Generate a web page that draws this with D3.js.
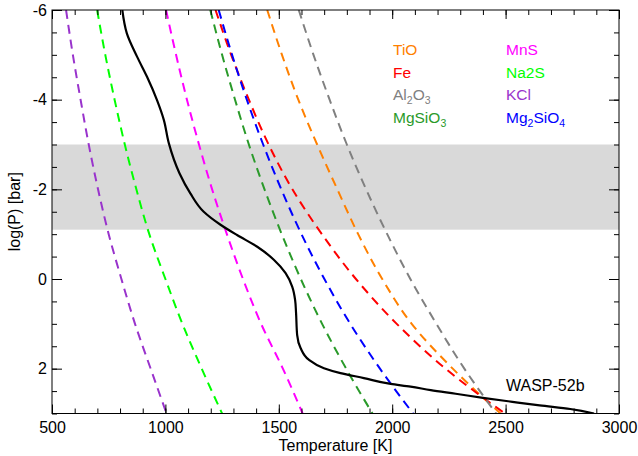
<!DOCTYPE html>
<html>
<head>
<meta charset="utf-8">
<script src="https://cdn.jsdelivr.net/npm/d3@7"></script>
<style>
  body { margin: 0; background: #fff; }
  text { font-family: "Liberation Sans", Arial, sans-serif; }
</style>
</head>
<body>
<div id="chart"></div>
<script>
// pressure grid, log(P) in bar
const logP = [-6, -5, -4, -3, -2, -1, 0, 1, 2, 3];

// condensation curves, temperature [K] at each logP
const tio     = [1449, 1514, 1586, 1669, 1758, 1850, 1956, 2086, 2267, 2478];
const fe      = [1221, 1290, 1368, 1455, 1560, 1690, 1840, 2020, 2235, 2497];
const al2o3   = [1588, 1653, 1724, 1800, 1885, 1978, 2080, 2195, 2318, 2458];
const mgsio3  = [1198, 1250, 1307, 1368, 1437, 1513, 1597, 1691, 1797, 1913];
const mns     = [1003, 1047, 1095, 1148, 1206, 1271, 1342, 1422, 1518, 1605];
const na2s    = [699, 735, 776, 821, 872, 929, 1000, 1075, 1160, 1250];
const kcl     = [562, 592, 626, 662, 703, 750, 806, 866, 935, 1005];
const mg2sio4 = [1235, 1294, 1359, 1431, 1511, 1600, 1701, 1815, 1946, 2092];

// WASP-52b P-T profile
const profP = [-6, -5.48, -4.96, -4.51, -3.99, -3.55, -3.03, -2.36, -1.91, -1.5, -1.21, -0.98, -0.72, -0.43, -0.13, 0.17, 0.47, 0.75, 1.25, 1.54, 1.8, 1.99, 2.1, 2.21, 2.34, 2.4, 2.48, 2.56, 2.65, 2.74, 2.82, 2.9, 3.0];
const profT = [810, 830, 875, 919, 963, 993, 1015, 1062, 1110, 1169, 1243, 1316, 1405, 1478, 1530, 1559, 1572, 1576, 1581, 1596, 1632, 1699, 1772, 1875, 1993, 2081, 2170, 2280, 2400, 2530, 2650, 2785, 2890];

// shaded pressure band
const band = [-3, -1.1];

const xTicks = [500, 1000, 1500, 2000, 2500, 3000];
const yTicks = [-6, -4, -2, 0, 2];

const species = [
  { name: "TiO", sub: null, col: "#ff8000", t: tio, lx: 0, row: 0 },
  { name: "Fe", sub: null, col: "#ff0000", t: fe, lx: 0, row: 1 },
  { name: "Al2O3", sub: ["Al", "2", "O", "3"], col: "#808080", t: al2o3, lx: 0, row: 2 },
  { name: "MgSiO3", sub: ["MgSiO", "3"], col: "#2a9a2a", t: mgsio3, lx: 0, row: 3 },
  { name: "MnS", sub: null, col: "#ff00ff", t: mns, lx: 1, row: 0 },
  { name: "Na2S", sub: null, col: "#00ff00", t: na2s, lx: 1, row: 1 },
  { name: "KCl", sub: null, col: "#9933cc", t: kcl, lx: 1, row: 2 },
  { name: "Mg2SiO4", sub: ["Mg", "2", "SiO", "4"], col: "#0000ff", t: mg2sio4, lx: 1, row: 3 }
];

const W = 638, H = 456;
const L = 52, R = 619, T = 10, B = 413.5;

const svg = d3.select("#chart").append("svg")
  .attr("width", W)
  .attr("height", H);

const x = d3.scaleLinear().domain([500, 3000]).range([L, R]);
const y = d3.scaleLinear().domain([-6, 3]).range([T, B]);

svg.append("clipPath").attr("id", "plotclip")
  .append("rect")
  .attr("x", L).attr("y", T)
  .attr("width", R - L).attr("height", B - T);

svg.append("rect")
  .attr("x", L)
  .attr("y", y(band[0]))
  .attr("width", R - L)
  .attr("height", y(band[1]) - y(band[0]))
  .attr("fill", "#d9d9d9");

const plot = svg.append("g").attr("clip-path", "url(#plotclip)");

const line = d3.line()
  .x(d => x(d.t))
  .y(d => y(d.p))
  .curve(d3.curveMonotoneY);

plot.selectAll(".cond")
  .data(species)
  .join("path")
  .attr("class", "cond")
  .attr("d", s => line(s.t.map((t, i) => ({ t: t, p: logP[i] }))))
  .attr("fill", "none")
  .attr("stroke", s => s.col)
  .attr("stroke-width", 2)
  .attr("stroke-dasharray", "9,6");

plot.append("path")
  .attr("d", line(profT.map((t, i) => ({ t: t, p: profP[i] }))))
  .attr("fill", "none")
  .attr("stroke", "#000")
  .attr("stroke-width", 2.2);

// axes, ticks pointing inward
function styleAxis(g) {
  g.select(".domain").remove();
  g.selectAll("line").attr("stroke", "#000");
  g.selectAll("text")
    .attr("fill", "#000")
    .style("font-size", "16px")
    .style("font-family", "'Liberation Sans', Arial, sans-serif");
}

const xMinor = d3.range(500, 3001, 100);
const yMinor = d3.range(-6, 3.01, 0.5);

svg.append("g").attr("transform", `translate(0,${B})`)
  .call(d3.axisBottom(x).tickValues(xMinor).tickSize(-5).tickFormat(""))
  .call(styleAxis);
svg.append("g").attr("transform", `translate(0,${B})`)
  .call(d3.axisBottom(x).tickValues(xTicks).tickSize(-9).tickPadding(8).tickFormat(d3.format("d")))
  .call(styleAxis);
svg.append("g").attr("transform", `translate(0,${T})`)
  .call(d3.axisTop(x).tickValues(xMinor).tickSize(-5).tickFormat(""))
  .call(styleAxis);
svg.append("g").attr("transform", `translate(0,${T})`)
  .call(d3.axisTop(x).tickValues(xTicks).tickSize(-9).tickFormat(""))
  .call(styleAxis);

svg.append("g").attr("transform", `translate(${L},0)`)
  .call(d3.axisLeft(y).tickValues(yMinor).tickSize(-5).tickFormat(""))
  .call(styleAxis);
svg.append("g").attr("transform", `translate(${L},0)`)
  .call(d3.axisLeft(y).tickValues(yTicks).tickSize(-10).tickPadding(5).tickFormat(d3.format("d")))
  .call(styleAxis);
svg.append("g").attr("transform", `translate(${R},0)`)
  .call(d3.axisRight(y).tickValues(yMinor).tickSize(-5).tickFormat(""))
  .call(styleAxis);
svg.append("g").attr("transform", `translate(${R},0)`)
  .call(d3.axisRight(y).tickValues(yTicks).tickSize(-10).tickFormat(""))
  .call(styleAxis);

// plain hyphen for negative labels, as in the original
svg.selectAll("text").filter(function () { return /\u2212/.test(this.textContent); })
  .text(function () { return this.textContent.replace("\u2212", "-"); });

svg.append("rect")
  .attr("x", L).attr("y", T)
  .attr("width", R - L).attr("height", B - T)
  .attr("fill", "none")
  .attr("stroke", "#000")
  .attr("stroke-width", 1);

svg.append("text")
  .attr("x", (L + R) / 2)
  .attr("y", 451)
  .attr("text-anchor", "middle")
  .style("font-size", "16px")
  .text("Temperature [K]");

svg.append("text")
  .attr("transform", `translate(20,${(T + B) / 2}) rotate(-90)`)
  .attr("text-anchor", "middle")
  .style("font-size", "16px")
  .text("log(P) [bar]");

// legend
const legX = [393, 506];
const legY = [55, 77.5, 100, 122.5];

const leg = svg.selectAll(".leg")
  .data(species)
  .join("text")
  .attr("class", "leg")
  .attr("x", s => legX[s.lx])
  .attr("y", s => legY[s.row])
  .attr("fill", s => s.col)
  .style("font-size", "15.5px");

leg.each(function (s) {
  const el = d3.select(this);
  if (!s.sub) { el.text(s.name); return; }
  s.sub.forEach((part, i) => {
    const isSub = /^\d$/.test(part);
    el.append("tspan")
      .attr("dy", isSub ? 4 : (i > 0 ? -4 : 0))
      .style("font-size", isSub ? "10.5px" : "15.5px")
      .text(part);
  });
});

svg.append("text")
  .attr("x", 506)
  .attr("y", 391)
  .style("font-size", "16px")
  .attr("fill", "#000")
  .text("WASP-52b");
</script>
</body>
</html>
